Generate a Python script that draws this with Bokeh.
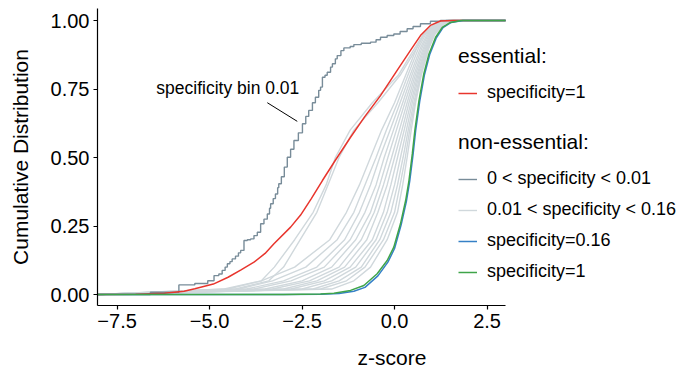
from bokeh.plotting import figure
from bokeh.models import Range1d, Legend, LegendItem, Label, FixedTicker
from bokeh.embed import file_html
from bokeh.resources import INLINE

FONT = "Liberation Sans"
X_MIN, X_MAX = -8.03, 3.0
Y_MIN, Y_MAX = -0.0401, 1.0438
PANEL_RIGHT_EXTRA = 181 / 37.0  # room on the right of the data area for the legend

x_ticks = [-7.5, -5.0, -2.5, 0.0, 2.5]
x_tick_labels = ["\u22127.5", "\u22125.0", "\u22122.5", "0.0", "2.5"]
y_ticks = [0.0, 0.25, 0.5, 0.75, 1.0]
y_tick_labels = ["0.00", "0.25", "0.50", "0.75", "1.00"]

# essential, specificity = 1
red_x = [-8.03, -7.0, -6.22, -5.69, -5.4, -4.9, -4.5, -4.15, -3.8, -3.5, -3.26, -2.81, -2.54,
         -2.25, -1.95, -1.6, -1.19, -0.8, -0.38, 0.07, 0.43, 0.70, 0.97, 1.24, 1.6, 3.0]
red_y = [0.0, 0.001, 0.005, 0.012, 0.021, 0.038, 0.063, 0.09, 0.118, 0.15, 0.185, 0.246, 0.29,
         0.35, 0.416, 0.49, 0.574, 0.65, 0.726, 0.818, 0.891, 0.945, 0.982, 0.998, 1.0, 1.0]

# non-essential, 0 < specificity < 0.01 (step ECDF)
dark_x = [-8.03, -6.6, -5.83, -5.4, -5.05, -4.88, -4.75, -4.66, -4.58, -4.52, -4.45, -4.39, -4.3,
          -4.22, -4.16, -4.07, -3.98, -3.89, -3.8, -3.71, -3.62, -3.53, -3.44, -3.38, -3.35, -3.28,
          -3.22, -3.16, -3.13, -3.06, -2.98, -2.9, -2.81, -2.72, -2.6, -2.49, -2.4, -2.32, -2.22,
          -2.14, -2.05, -2.0, -1.95, -1.88, -1.82, -1.73, -1.68, -1.6, -1.55, -1.45, -1.37, -1.2,
          -1.1, -0.9, -0.65, -0.5, -0.38, -0.2, -0.02, 0.15, 0.34, 0.5, 0.7, 0.97, 1.24, 3.0]
dark_y = [0.0, 0.008, 0.035, 0.04, 0.05, 0.069, 0.075, 0.088, 0.1, 0.112, 0.12, 0.13, 0.14,
          0.152, 0.161, 0.197, 0.2, 0.203, 0.215, 0.227, 0.258, 0.275, 0.294, 0.315, 0.331, 0.35,
          0.367, 0.39, 0.404, 0.43, 0.465, 0.501, 0.53, 0.562, 0.59, 0.623, 0.65, 0.672, 0.7,
          0.72, 0.745, 0.757, 0.793, 0.8, 0.811, 0.83, 0.842, 0.86, 0.872, 0.89, 0.9, 0.905,
          0.912, 0.917, 0.921, 0.93, 0.939, 0.945, 0.951, 0.96, 0.97, 0.978, 0.988, 0.997, 1.0, 1.0]

# non-essential, 0.01 < specificity < 0.16 : x at shared cumulative levels
gray_levels = [0.0, 0.02, 0.05, 0.1, 0.2, 0.3, 0.4, 0.5, 0.6, 0.7, 0.8, 0.9, 0.95, 0.99, 1.0, 1.0]
gray_series = [
    [-4.6, -3.6, -3.25, -2.7, -2.2, -1.85, -1.6, -1.2, -0.6, 0.1, 0.55, 0.78, 1.1, 1.4],
    [-4.3, -3.4, -3.0, -2.55, -2.1, -1.8, -1.5, -1.1, -0.45, 0.15, 0.6, 0.8, 1.12, 1.42],
    [-4.5, -3.6, -2.7, -1.75, -1.3, -0.95, -0.65, -0.35, 0.0, 0.3, 0.6, 0.8, 1.1, 1.4],
    [-4.2, -3.3, -2.4, -1.55, -1.1, -0.8, -0.5, -0.22, 0.08, 0.36, 0.65, 0.84, 1.12, 1.42],
    [-4.0, -3.0, -2.1, -1.35, -0.95, -0.65, -0.4, -0.12, 0.15, 0.42, 0.7, 0.88, 1.15, 1.45],
    [-3.8, -2.8, -1.9, -1.2, -0.8, -0.5, -0.28, -0.03, 0.22, 0.47, 0.74, 0.91, 1.18, 1.47],
    [-3.5, -2.5, -1.7, -1.05, -0.65, -0.4, -0.18, 0.05, 0.28, 0.52, 0.78, 0.94, 1.2, 1.5],
    [-3.3, -2.3, -1.5, -0.9, -0.55, -0.3, -0.08, 0.13, 0.34, 0.56, 0.81, 0.97, 1.22, 1.52],
    [-3.0, -2.1, -1.35, -0.75, -0.45, -0.2, 0.0, 0.2, 0.39, 0.6, 0.84, 0.99, 1.25, 1.55],
    [-2.8, -1.9, -1.2, -0.6, -0.3, -0.1, 0.08, 0.26, 0.44, 0.63, 0.86, 1.01, 1.27, 1.57],
    [-2.5, -1.7, -1.05, -0.5, -0.2, 0.0, 0.16, 0.32, 0.48, 0.66, 0.88, 1.03, 1.3, 1.6],
    [-2.2, -1.5, -0.9, -0.4, -0.1, 0.08, 0.23, 0.37, 0.52, 0.69, 0.9, 1.05, 1.32, 1.62],
    [-2.0, -1.3, -0.8, -0.3, 0.0, 0.15, 0.29, 0.41, 0.55, 0.71, 0.92, 1.07, 1.35, 1.65],
    [-1.7, -1.1, -0.65, -0.2, 0.08, 0.22, 0.34, 0.45, 0.57, 0.72, 0.93, 1.09, 1.38, 1.68],
]

# non-essential, specificity = 0.16
blue_x = [-8.03, -3.0, -2.0, -1.5, -1.1, -0.8, -0.45, -0.18, 0.0, 0.18, 0.32, 0.41, 0.5, 0.57,
          0.68, 0.81, 0.95, 1.13, 1.31, 1.53, 1.85, 3.0]
blue_y = [0.0, 0.0, 0.001, 0.004, 0.012, 0.026, 0.068, 0.118, 0.168, 0.255, 0.34, 0.414, 0.51,
          0.598, 0.705, 0.803, 0.876, 0.937, 0.974, 0.993, 1.0, 1.0]

# non-essential, specificity = 1
green_x = [-8.03, -3.0, -2.0, -1.64, -1.19, -0.83, -0.47, -0.2, -0.02, 0.16, 0.3, 0.39, 0.48,
           0.55, 0.66, 0.79, 0.93, 1.11, 1.29, 1.51, 1.8, 3.0]
green_y = [0.0, 0.0, 0.002, 0.005, 0.015, 0.033, 0.076, 0.124, 0.173, 0.258, 0.343, 0.416, 0.513,
           0.6, 0.708, 0.805, 0.878, 0.939, 0.975, 0.993, 1.0, 1.0]

C_RED = "#E8352D"
C_DARK = "#788C99"
C_GRAY = "#D0D8DC"
C_BLUE = "#3580C6"
C_GREEN = "#3FA449"

p = figure(width=686, height=375, output_backend="svg", toolbar_location=None,
           x_range=Range1d(X_MIN, X_MAX + PANEL_RIGHT_EXTRA), y_range=Range1d(Y_MIN, Y_MAX),
           min_border_left=97, min_border_right=0, min_border_top=8, min_border_bottom=70)
p.xgrid.visible = False
p.ygrid.visible = False
p.outline_line_color = None
p.background_fill_color = "white"

gray_renderers = []
for xs in gray_series:
    full_x = [X_MIN] + xs + [X_MAX]
    r = p.line(full_x, gray_levels, line_color=C_GRAY, line_width=1.4)
    gray_renderers.append(r)

dark_r = p.step(dark_x, dark_y, mode="after", line_color=C_DARK, line_width=1.4)
red_r = p.line(red_x, red_y, line_color=C_RED, line_width=1.5)
blue_r = p.line(blue_x, blue_y, line_color=C_BLUE, line_width=1.5)
green_r = p.line(green_x, green_y, line_color=C_GREEN, line_width=1.5)

# annotation
p.add_layout(Label(x=-6.44, y=0.716, text="specificity bin 0.01", text_font=FONT,
                   text_font_size="17.5px", text_color="black", text_baseline="bottom"))
p.segment(x0=[-3.44], y0=[0.700], x1=[-2.63], y1=[0.632], line_color="black", line_width=1)

# axes
p.xaxis.bounds = (X_MIN, X_MAX)
p.xaxis.ticker = FixedTicker(ticks=x_ticks)
p.xaxis.major_label_overrides = dict(zip(x_ticks, x_tick_labels))
p.yaxis.ticker = FixedTicker(ticks=y_ticks)
p.yaxis.major_label_overrides = dict(zip(y_ticks, y_tick_labels))
p.xaxis.axis_label = "z-score"
p.yaxis.axis_label = "Cumulative Distribution"
for ax in (p.xaxis, p.yaxis):
    ax.axis_line_color = "black"
    ax.axis_line_width = 1.2
    ax.major_tick_line_color = "black"
    ax.major_tick_line_width = 1.2
    ax.major_tick_in = 0
    ax.major_tick_out = 4
    ax.minor_tick_line_color = None
    ax.major_label_text_font = FONT
    ax.major_label_text_font_size = "20px"
    ax.major_label_text_color = "black"
    ax.major_label_standoff = 4
    ax.axis_label_text_font = FONT
    ax.axis_label_text_font_size = "21px"
    ax.axis_label_text_font_style = "normal"
    ax.axis_label_text_color = "black"
p.xaxis.axis_label_standoff = 15
p.yaxis.axis_label_standoff = 16

common = dict(border_line_color=None, background_fill_alpha=0, padding=0, margin=0,
              glyph_width=19, glyph_height=20, label_height=20, label_standoff=10, spacing=10,
              label_text_font=FONT, label_text_font_size="18px", label_text_color="black",
              title_text_font=FONT, title_text_font_size="21px", title_text_font_style="normal",
              title_text_color="black", title_standoff=14)

leg1 = Legend(items=[LegendItem(label="specificity=1", renderers=[red_r])],
              title="essential:", location=(361, 202), **common)
leg2 = Legend(items=[LegendItem(label="0 < specificity < 0.01", renderers=[dark_r]),
                     LegendItem(label="0.01 < specificity < 0.16", renderers=[gray_renderers[0]]),
                     LegendItem(label="specificity=0.16", renderers=[blue_r]),
                     LegendItem(label="specificity=1", renderers=[green_r])],
              title="non-essential:", location=(361, 23), **common)
p.add_layout(leg1)
p.add_layout(leg2)

open("out.html", "w").write(file_html(p, INLINE))
